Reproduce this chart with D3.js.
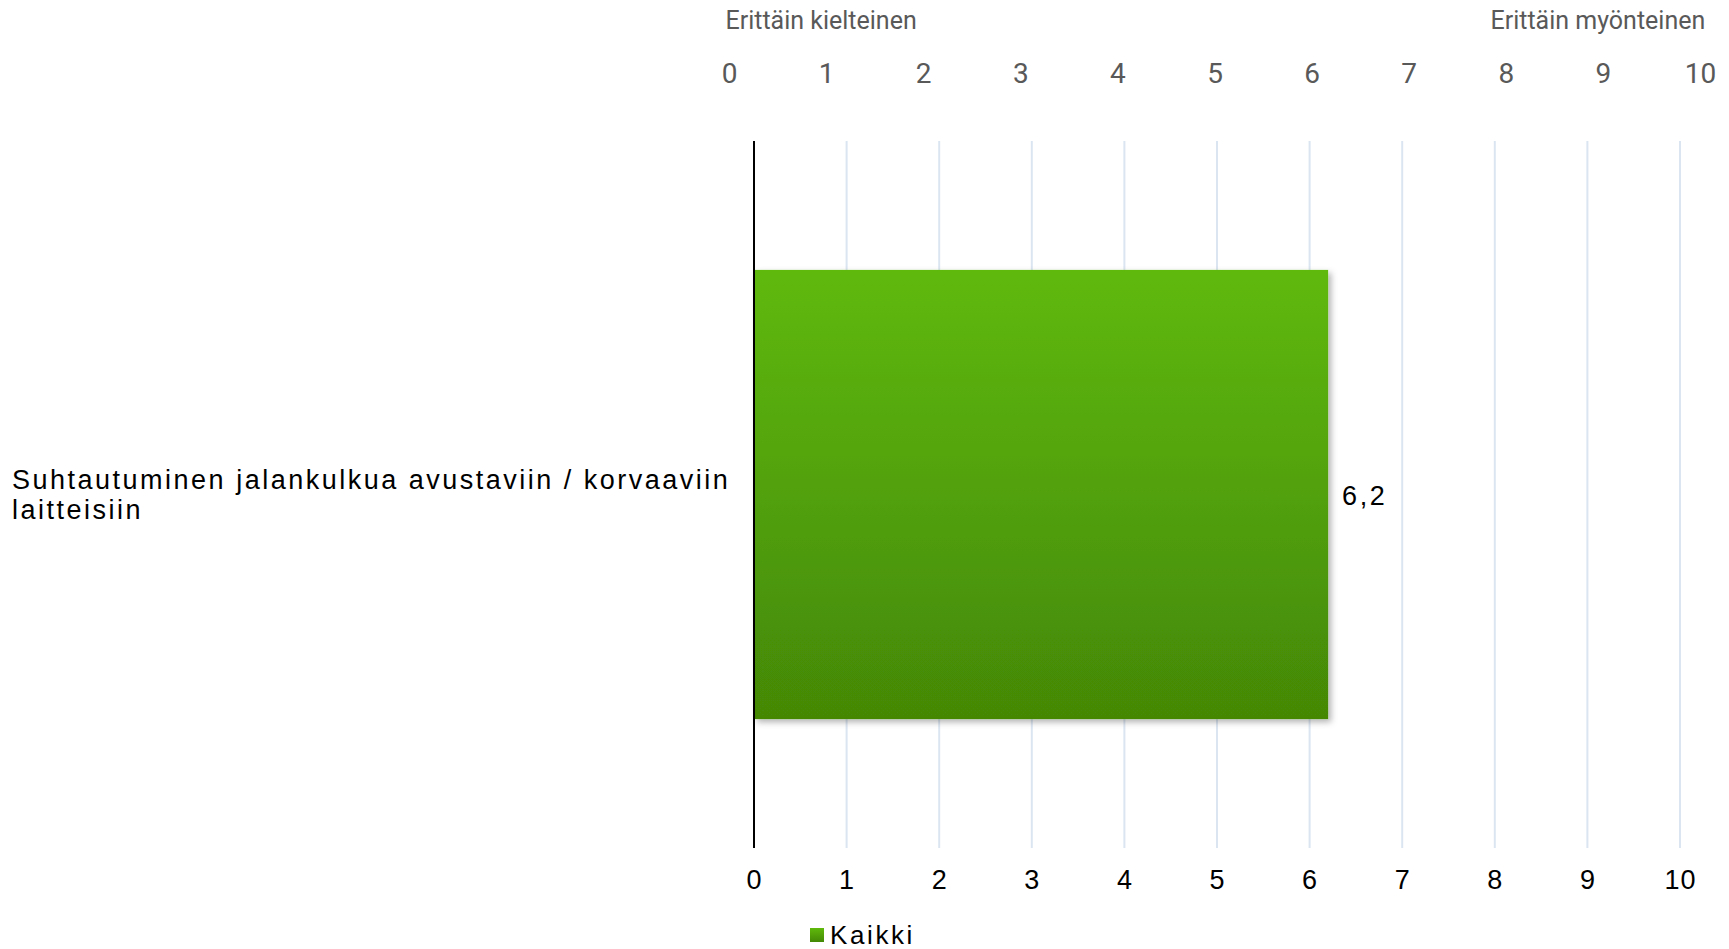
<!DOCTYPE html>
<html lang="fi">
<head>
    <meta charset="UTF-8">
    <script src="https://d3js.org/d3.v7.min.js"></script>
    <title>Suhtautuminen jalankulkua avustaviin laitteisiin</title>
    <style>
        html, body { margin: 0; padding: 0; background: #fff; }
        svg { display: block; }
        .cat, .val, .legend-text, .bottom-axis text { font-family: "Liberation Sans", Arial, sans-serif; fill: #000; }
        .top-axis text, .top-head { font-family: "Liberation Sans Narrow", "Roboto", sans-serif; fill: #595959; }
    </style>
</head>
<body>
    <div id="chart"></div>
    <script>
        // chart data
        const categories = ["Suhtautuminen jalankulkua avustaviin / korvaaviin laitteisiin"];
        const values = [6.2];
        const seriesNames = ["Kaikki"];
        const tickValues = [0, 1, 2, 3, 4, 5, 6, 7, 8, 9, 10];
        const scaleEnds = ["Erittäin kielteinen", "Erittäin myönteinen"];

        const width = 1729, height = 949;
        const plotTop = 141, plotBottom = 848;

        const svg = d3.select("#chart").append("svg")
            .attr("width", width)
            .attr("height", height);

        // gradient + shadow for the bar
        const defs = svg.append("defs");
        const grad = defs.append("linearGradient")
            .attr("id", "barGrad")
            .attr("x1", 0).attr("y1", 0).attr("x2", 0).attr("y2", 1);
        grad.append("stop").attr("offset", "0%").attr("stop-color", "#5fb90b");
        grad.append("stop").attr("offset", "100%").attr("stop-color", "#448806");

        const shadow = defs.append("filter").attr("id", "shadow")
            .attr("x", "-5%").attr("y", "-5%").attr("width", "115%").attr("height", "115%");
        shadow.append("feDropShadow")
            .attr("dx", 3).attr("dy", 3).attr("stdDeviation", 3)
            .attr("flood-color", "#000").attr("flood-opacity", 0.3);

        // scales for the plot
        const x = d3.scaleLinear().domain([0, 10]).range([754, 1680]);
        const y = d3.scaleBand().domain(categories).range([plotTop, plotBottom]).padding(0.223);

        // the separate scale drawn on top
        const xTop = d3.scaleLinear().domain([0, 10]).range([729, 1700]);

        // gridlines
        svg.append("g")
            .selectAll("line")
            .data(tickValues.filter(d => d > 0))
            .join("line")
            .attr("x1", d => x(d)).attr("x2", d => x(d))
            .attr("y1", plotTop).attr("y2", plotBottom)
            .attr("stroke", "#dbe5f1")
            .attr("stroke-width", 2);

        // bars
        svg.append("g")
            .selectAll("rect")
            .data(values)
            .join("rect")
            .attr("x", x(0))
            .attr("y", (d, i) => y(categories[i]))
            .attr("width", d => x(d) - x(0))
            .attr("height", y.bandwidth())
            .attr("fill", "url(#barGrad)")
            .attr("filter", "url(#shadow)");

        // zero axis line
        svg.append("line")
            .attr("x1", x(0)).attr("x2", x(0))
            .attr("y1", plotTop).attr("y2", plotBottom)
            .attr("stroke", "#000")
            .attr("stroke-width", 2);

        // bottom axis numbers
        const bottomAxis = svg.append("g")
            .attr("class", "bottom-axis")
            .attr("transform", `translate(0,${plotBottom})`)
            .call(d3.axisBottom(x).tickValues(tickValues).tickFormat(d3.format("d")).tickSize(0).tickPadding(22));
        bottomAxis.select(".domain").remove();
        bottomAxis.selectAll("text")
            .style("font-size", "27px")
            .style("letter-spacing", "1px")
            .attr("fill", "#000");

        // top scale numbers
        const topAxis = svg.append("g")
            .attr("class", "top-axis")
            .attr("transform", "translate(0,83)")
            .call(d3.axisTop(xTop).tickValues(tickValues).tickFormat(d3.format("d")).tickSize(0).tickPadding(0));
        topAxis.select(".domain").remove();
        topAxis.selectAll("text")
            .attr("dy", 0)
            .style("font-size", "28px")
            .attr("fill", "#595959");

        // top scale end labels
        svg.selectAll(".top-head")
            .data(scaleEnds)
            .join("text")
            .attr("class", "top-head")
            .attr("x", (d, i) => xTop(i === 0 ? 1 : 9) - 5)
            .attr("y", 29)
            .attr("text-anchor", "middle")
            .style("font-size", "25px")
            .text(d => d);

        // category labels (wrapped to two lines)
        categories.forEach((c, i) => {
            const words = c.split(" ");
            const cy = y(c) + y.bandwidth() / 2;
            const t = svg.append("text")
                .attr("class", "cat")
                .attr("x", 12)
                .attr("y", cy - 6)
                .style("font-size", "27px")
                .style("letter-spacing", "2.5px");
            t.append("tspan").attr("x", 12).text(words.slice(0, 5).join(" "));
            t.append("tspan").attr("x", 12).attr("dy", 30).text(words.slice(5).join(" "));
        });

        // value labels
        svg.append("g")
            .selectAll("text")
            .data(values)
            .join("text")
            .attr("class", "val")
            .attr("x", d => x(d) + 14)
            .attr("y", (d, i) => y(categories[i]) + y.bandwidth() / 2 + 10)
            .style("font-size", "27px")
            .style("letter-spacing", "2.5px")
            .text(d => d3.format(".1f")(d).replace(".", ","));

        // legend
        const legend = svg.append("g").attr("transform", "translate(810,928)");
        legend.selectAll("rect")
            .data(seriesNames)
            .join("rect")
            .attr("width", 14).attr("height", 14)
            .attr("fill", "url(#barGrad)");
        legend.selectAll("text")
            .data(seriesNames)
            .join("text")
            .attr("class", "legend-text")
            .attr("x", 20)
            .attr("y", 16)
            .style("font-size", "26px")
            .style("letter-spacing", "2.6px")
            .text(d => d);
    </script>
</body>
</html>
